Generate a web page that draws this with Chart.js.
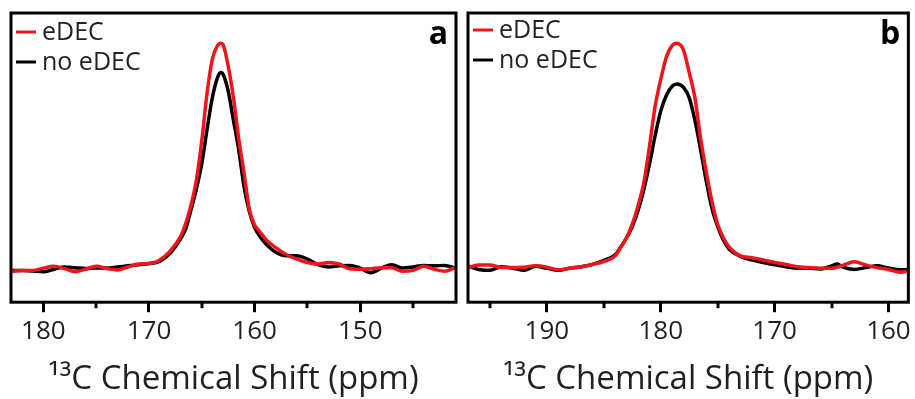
<!DOCTYPE html>
<html>
<head>
<meta charset="utf-8">
<script src="https://cdn.jsdelivr.net/npm/chart.js@4.4.1/dist/chart.umd.min.js"></script>
<style>
  body { margin: 0; background: #fff; }
  #wrap { position: relative; width: 915px; height: 399px; overflow: hidden; }
  canvas { position: absolute; top: 0; }
</style>
</head>
<body>
<div id="wrap">
  <canvas id="chartA" width="460" height="399" style="left:0px"></canvas>
  <canvas id="chartB" width="458" height="399" style="left:457px"></canvas>
</div>
<script>
// panel a: chemical shift (ppm) and intensities
const ppmA = [183, 182, 181, 180, 179, 178, 177, 176, 175, 174, 173, 172, 171, 170, 169, 168, 167, 166.5, 166, 165.5, 165, 164.5, 164, 163.5, 163.2, 163, 162.5, 162, 161.5, 161, 160.5, 160, 159.5, 159, 158, 157, 156, 155, 154, 153, 152, 151, 150, 149, 148, 147, 146, 145, 144, 143, 142, 141]
const eDecA = [-0.005, 0, 0, 0.01, 0.018, 0.008, -0.006, 0.005, 0.018, 0.008, 0.002, 0.015, 0.028, 0.03, 0.045, 0.085, 0.15, 0.21, 0.29, 0.4, 0.57, 0.78, 0.93, 0.99, 1.0, 0.995, 0.9, 0.76, 0.58, 0.43, 0.27, 0.2, 0.17, 0.14, 0.1, 0.07, 0.05, 0.035, 0.028, 0.035, 0.028, 0.007, 0.005, 0.007, 0.012, 0.012, -0.004, 0, 0.018, 0.005, -0.004, 0.012]
const noEDecA = [0, 0, -0.003, -0.006, 0.005, 0.015, 0.012, 0.008, 0.01, 0.01, 0.015, 0.02, 0.025, 0.03, 0.04, 0.075, 0.14, 0.185, 0.27, 0.36, 0.47, 0.62, 0.76, 0.85, 0.871, 0.865, 0.79, 0.66, 0.53, 0.37, 0.26, 0.19, 0.15, 0.12, 0.08, 0.065, 0.065, 0.05, 0.025, 0.015, 0.02, 0.022, 0.01, -0.01, 0.01, 0.025, 0.01, 0.015, 0.022, 0.02, 0.022, 0.01]

// panel b
const ppmB = [197, 196, 195, 194, 193, 192, 191, 190, 189, 188, 187, 186, 185, 184, 183.5, 183, 182.5, 182, 181.5, 181, 180.5, 180, 179.5, 179, 178.6, 178, 177.5, 177, 176.5, 176, 175.5, 175, 174.5, 174, 173, 172, 171, 170, 169, 168, 167, 166, 165, 164.5, 164, 163, 162, 161, 160, 159, 158]
const eDecB = [0.005, 0.02, 0.02, 0.008, 0.008, 0.01, 0.016, 0.01, -0.002, 0.005, 0.012, 0.022, 0.035, 0.06, 0.1, 0.14, 0.2, 0.28, 0.38, 0.54, 0.72, 0.84, 0.94, 0.99, 1.0, 0.97, 0.87, 0.76, 0.58, 0.43, 0.3, 0.2, 0.14, 0.1, 0.06, 0.052, 0.042, 0.031, 0.022, 0.012, 0.008, 0.005, 0.005, 0.01, 0.018, 0.034, 0.02, 0.008, 0, -0.012, -0.005]
const noEDecB = [0.016, 0, -0.004, 0.012, 0.005, -0.004, 0.014, 0.005, -0.004, 0.005, 0.012, 0.022, 0.04, 0.065, 0.1, 0.14, 0.19, 0.26, 0.35, 0.463, 0.59, 0.7, 0.77, 0.81, 0.82, 0.805, 0.76, 0.66, 0.53, 0.39, 0.27, 0.19, 0.13, 0.09, 0.058, 0.042, 0.03, 0.02, 0.012, 0.005, 0.005, 0.002, 0.015, 0.024, 0.01, 0, 0.008, 0.016, 0.006, -0.002, 0]

const seriesNames = ['eDEC', 'no eDEC']
const FONT = "'Open Sans', 'DejaVu Sans', sans-serif"
const TEXT = '#231f20'
const RED = '#f0141b'

// black frame, short minor ticks, legend and panel letter
const framePlugin = {
  id: 'frame',
  afterDraw(chart, args, opts) {
    const {ctx, chartArea: a, scales} = chart
    ctx.save()
    ctx.strokeStyle = '#000'
    ctx.lineWidth = 3
    ctx.strokeRect(a.left, a.top, a.right - a.left, a.bottom - a.top)
    scales.x.ticks.forEach(t => {
      if (t.value % 10 !== 0) {
        const px = Math.round(scales.x.getPixelForValue(t.value))
        ctx.beginPath()
        ctx.moveTo(px, a.bottom)
        ctx.lineTo(px, a.bottom + 6)
        ctx.stroke()
      }
    })
    // legend
    ctx.font = "25px " + FONT
    ctx.textAlign = 'left'
    ctx.textBaseline = 'middle'
    chart.data.datasets.forEach((ds, i) => {
      const y = a.top + opts.legendTop + i * 30
      ctx.strokeStyle = ds.borderColor
      ctx.lineWidth = 3
      ctx.beginPath()
      ctx.moveTo(a.left + 5, y)
      ctx.lineTo(a.left + 25, y)
      ctx.stroke()
      ctx.fillStyle = TEXT
      ctx.fillText(ds.label, a.left + 31, y + 1)
    })
    ctx.fillStyle = '#000'
    ctx.font = "bold 32px " + FONT
    ctx.textAlign = 'right'
    ctx.textBaseline = 'alphabetic'
    ctx.fillText(opts.letter, a.right - 8, a.top + 31)
    ctx.restore()
  }
}

function makeChart(id, ppm, red, black, xmin, xmax, ymin, ymax, letter, legendTop, pad) {
  const toPts = arr => ppm.map((x, i) => ({x: x, y: arr[i]}))
  return new Chart(document.getElementById(id), {
    type: 'line',
    data: {
      datasets: [
        {label: seriesNames[0], data: toPts(red), borderColor: RED, backgroundColor: RED, borderWidth: 3.5, pointRadius: 0, cubicInterpolationMode: 'monotone', order: 0},
        {label: seriesNames[1], data: toPts(black), borderColor: '#000', backgroundColor: '#000', borderWidth: 3.5, pointRadius: 0, cubicInterpolationMode: 'monotone', order: 1}
      ]
    },
    options: {
      responsive: false,
      animation: false,
      events: [],
      layout: {padding: pad},
      scales: {
        x: {
          type: 'linear',
          reverse: true,
          min: xmin,
          max: xmax,
          border: {display: false},
          grid: {
            drawOnChartArea: false,
            drawTicks: true,
            tickLength: 10,
            tickWidth: 3,
            tickColor: c => (c.tick && c.tick.value % 10 === 0) ? '#000' : 'rgba(0,0,0,0)'
          },
          ticks: {
            stepSize: 5,
            includeBounds: false,
            autoSkip: false,
            maxRotation: 0,
            padding: 4,
            color: TEXT,
            font: {family: FONT, size: 26},
            callback: v => v % 10 === 0 ? String(v) : ''
          },
          title: {
            display: true,
            text: '¹³C Chemical Shift (ppm)',
            color: TEXT,
            font: {family: FONT, size: 33},
            padding: {top: 8, bottom: 0}
          }
        },
        y: {display: false, min: ymin, max: ymax}
      },
      plugins: {
        legend: {display: false},
        tooltip: {enabled: false},
        frame: {letter: letter, legendTop: legendTop}
      }
    },
    plugins: [framePlugin]
  })
}

makeChart('chartA', ppmA, eDecA, noEDecA, 140.93, 183.06, -0.14, 1.133, 'a', 19, {left: 11, right: 4, top: 13, bottom: 0})
makeChart('chartB', ppmB, eDecB, noEDecB, 158.25, 196.93, -0.145, 1.134, 'b', 17, {left: 11, right: 6, top: 13, bottom: 0})
</script>
</body>
</html>
